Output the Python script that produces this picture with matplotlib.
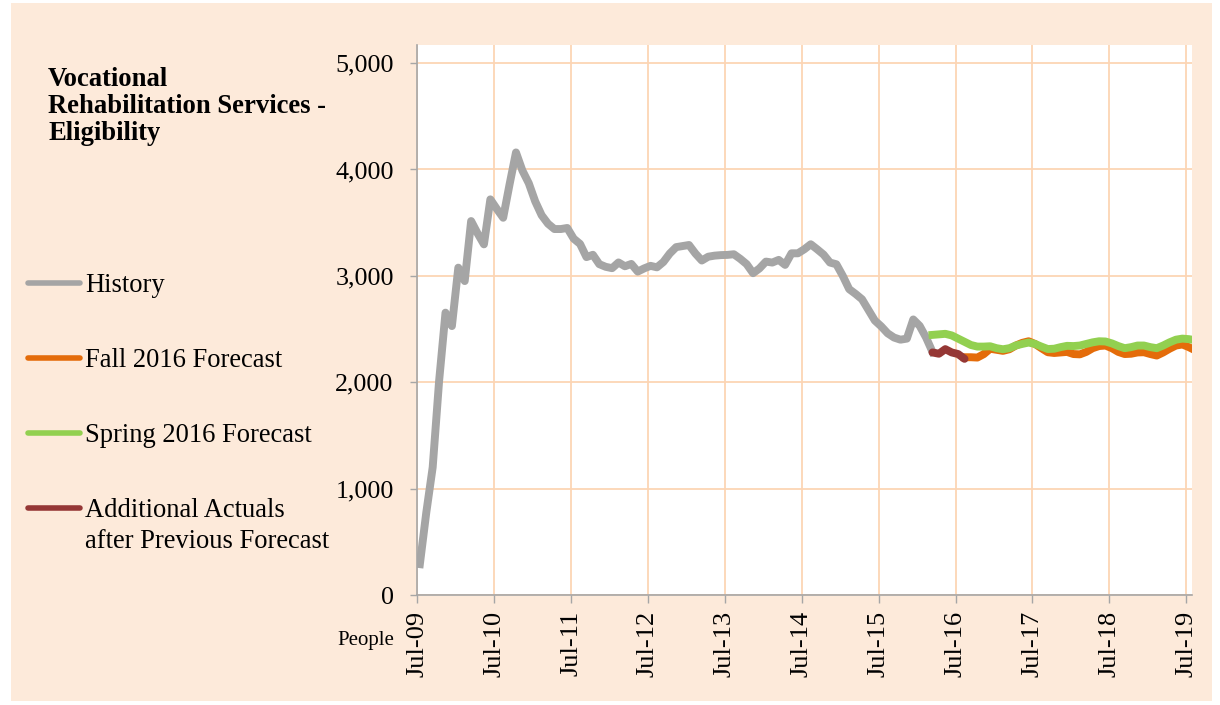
import numpy as np
import matplotlib.pyplot as plt
from matplotlib.lines import Line2D
from matplotlib.patches import Rectangle

# monthly caseload, first value is Jul-09
history = [290, 774, 1200, 2010, 2654, 2528, 3077, 2951, 3515, 3400,
           3296, 3719, 3630, 3546, 3860, 4160, 3990, 3870, 3700, 3570,
           3490, 3440, 3440, 3450, 3350, 3300, 3176, 3198, 3110, 3085,
           3072, 3126, 3090, 3112, 3040, 3070, 3094, 3080, 3130, 3210,
           3270, 3280, 3290, 3210, 3144, 3180, 3190, 3195, 3197, 3203,
           3160, 3110, 3025, 3070, 3134, 3125, 3150, 3103, 3212, 3212,
           3250, 3297, 3250, 3200, 3125, 3109, 3000, 2875, 2830, 2780,
           2680, 2580, 2525, 2460, 2420, 2400, 2410, 2590, 2530, 2420,
           2285]
additional = [2280, 2268, 2311, 2280, 2265, 2220]          # from month 80
spring = [2445, 2450, 2455, 2440, 2410, 2380, 2350, 2335, 2335, 2338,
          2320, 2310, 2320, 2345, 2360, 2373, 2360, 2335, 2312, 2315,
          2330, 2342, 2340, 2345, 2360, 2375, 2385, 2383, 2365, 2340,
          2320, 2330, 2345, 2345, 2330, 2320, 2345, 2375, 2400, 2410,
          2405, 2395]                                        # from month 80
fall = [2235, 2235, 2232, 2264, 2315, 2305, 2295, 2310, 2345, 2370,
        2385, 2360, 2320, 2282, 2275, 2280, 2285, 2265, 2262, 2285,
        2320, 2340, 2345, 2320, 2285, 2265, 2268, 2280, 2282, 2265,
        2251, 2280, 2315, 2345, 2355, 2330, 2300]            # from month 85
tick_labels = ['Jul-%02d' % y for y in range(9, 20)]
y_ticks = [0, 1000, 2000, 3000, 4000, 5000]

def months(start, vals):
    # points sit a little after the first of the month on the date axis
    return np.arange(start, start + len(vals)) + 0.4

c_hist = '#A5A5A5'
c_fall = '#E46C0A'
c_spring = '#92D050'
c_add = '#953735'
grid_c = '#FCD5B4'
serif = 'Liberation Serif'
lw = 5.7

fig = plt.figure(figsize=(12.2, 7.05), dpi=100)
fig.patch.set_facecolor('white')
fig.add_artist(Rectangle((11 / 1220, 4 / 705), 1201 / 1220, 698 / 705,
                         transform=fig.transFigure, facecolor='#FDEADA',
                         edgecolor='none', zorder=0))

ax = fig.add_axes([417.3 / 1220, 110 / 705, (1192 - 417.3) / 1220, 550 / 705])
ax.set_facecolor('white')

ax.plot(months(0, history), history, color=c_hist, lw=lw, zorder=3, solid_joinstyle='round')
ax.plot(months(85, fall), fall, color=c_fall, lw=lw, zorder=4, solid_joinstyle='round')
ax.plot(months(80, spring), spring, color=c_spring, lw=lw, zorder=5, solid_joinstyle='round')
ax.plot(months(80, additional), additional, color=c_add, lw=lw, zorder=6,
        solid_joinstyle='round', solid_capstyle='round')

ax.set_xlim(0, 120.9)
ax.set_ylim(0, 5170)
ax.set_xticks(np.arange(0, 121, 12))
ax.set_xticklabels(tick_labels, rotation=90, fontsize=19, family=serif)
ax.set_yticks(y_ticks)
ax.set_yticklabels(['{:,}'.format(v) for v in y_ticks], fontsize=18.7, family=serif)
ax.grid(True, color=grid_c, lw=1.3)
ax.set_axisbelow(True)

for s in ['top', 'right']:
    ax.spines[s].set_visible(False)
for s in ['left', 'bottom']:
    ax.spines[s].set_color('#A6A6A6')
    ax.spines[s].set_linewidth(1.2)
ax.tick_params(axis='y', length=5, width=1, color='#A6A6A6', pad=12)
ax.tick_params(axis='x', length=5.5, width=1, color='#A6A6A6', pad=6)

# title block
for txt, yb in [('Vocational', 86), ('Rehabilitation Services -', 113), ('Eligibility', 140)]:
    fig.text(48 / 1220, 1 - yb / 705, txt, fontsize=19.2, fontweight='bold',
             family=serif, va='baseline', ha='left')

# legend on the left
entries = [('History', c_hist, 283), ('Fall 2016 Forecast', c_fall, 358),
           ('Spring 2016 Forecast', c_spring, 433), ('Additional Actuals', c_add, 508)]
for label, col, yl in entries:
    fig.add_artist(Line2D([28 / 1220, 80 / 1220], [1 - yl / 705] * 2, color=col, lw=4,
                          solid_capstyle='round', transform=fig.transFigure))
    fig.text(85 / 1220, 1 - (yl + 9) / 705, label, fontsize=19.1, family=serif,
             va='baseline', ha='left')
fig.text(85 / 1220, 1 - 548 / 705, 'after Previous Forecast', fontsize=19.1,
         family=serif, va='baseline', ha='left')

fig.text(337 / 1220, 1 - 640 / 705, 'People', fontsize=15, family=serif,
         va='center', ha='left')

fig.savefig('out.png', dpi=100)
